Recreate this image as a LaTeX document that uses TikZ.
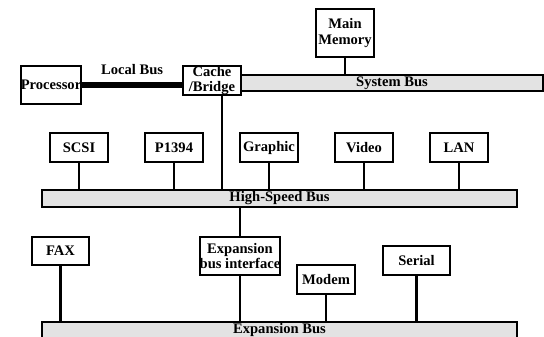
\documentclass[tikz,border=0pt]{standalone}
\usepackage{fontspec}
\setmainfont{Liberation Serif}
\usetikzlibrary{calc}
\tikzset{
  unit/.style={draw, line width=1.1pt, fill=white, inner sep=0pt, align=center,
    font=\fontsize{8.3}{9}\selectfont\bfseries},
  bus/.style={draw, line width=1.1pt, fill=gray!22, inner sep=0pt,
    font=\fontsize{8.3}{9}\selectfont\bfseries},
  tap/.style={line width=1.5pt}
}
\begin{document}
\begin{tikzpicture}[x=0.02cm, y=-0.02cm]
	\useasboundingbox (0,0) rectangle (544,337);
	\clip (0,0) rectangle (544,337);
	% Buses
	\node[bus, minimum width=302*0.02cm, minimum height=16*0.02cm] (sysbus) at (392,83) {System Bus};
	\node[bus, minimum width=475*0.02cm, minimum height=17*0.02cm] (hsbus) at (279.5,198.5) {High-Speed Bus};
	\node[bus, minimum width=475*0.02cm, minimum height=17*0.02cm, anchor=north] (expbus) at (279.5,321) {Expansion Bus};
	
	% Processor side
	\node[unit, minimum width=58*0.02cm, minimum height=38*0.02cm] (proc) at (51,85) {Processor};
	\node[unit, minimum width=58*0.02cm, minimum height=29*0.02cm] (cache) at (212,80.5) {Cache\\/Bridge};
	\node[unit, minimum width=58*0.02cm, minimum height=48*0.02cm] (mem) at (345,33) {Main\\Memory};
	
	% Units on the high-speed bus
	\node[unit, minimum width=58*0.02cm, minimum height=29*0.02cm] (scsi) at (79,147.5) {SCSI};
	\node[unit, minimum width=58*0.02cm, minimum height=29*0.02cm] (firewire) at (174,147.5) {P1394};
	\node[unit, minimum width=58*0.02cm, minimum height=29*0.02cm] (graphic) at (269,147.5) {Graphic};
	\node[unit, minimum width=58*0.02cm, minimum height=29*0.02cm] (video) at (364,147.5) {Video};
	\node[unit, minimum width=58*0.02cm, minimum height=29*0.02cm] (lan) at (459,147.5) {LAN};
	
	% Units on the expansion bus
	\node[unit, minimum width=57*0.02cm, minimum height=28*0.02cm] (fax) at (60.5,251) {FAX};
	\node[unit, minimum width=76*0.02cm, minimum height=38*0.02cm] (expif) at (240,256) {Expansion\\bus interface};
	\node[unit, minimum width=58*0.02cm, minimum height=29*0.02cm] (modem) at (326,279.5) {Modem};
	\node[unit, minimum width=67*0.02cm, minimum height=29*0.02cm] (serial) at (416.5,260.5) {Serial};
	
	% Connections
	\draw[line width=3.4pt] (proc.east) -- (proc.east -| cache.west)
	  node[midway, above=1pt, font=\fontsize{8.3}{9}\selectfont\bfseries] {Local Bus};
	\draw[tap] (mem.south) -- (mem.south |- sysbus.north);
	\draw[tap] ($(cache.south)+(10,0)$) -- ($(cache.south |- hsbus.north)+(10,0)$);
	\foreach \u in {scsi,firewire,graphic,video,lan}
	  \draw[tap] (\u.south) -- (\u.south |- hsbus.north);
	\draw[tap] (hsbus.south -| expif.north) -- (expif.north);
	\foreach \u in {fax,expif,modem,serial}
	  \draw[tap] (\u.south) -- (\u.south |- expbus.north);
	
\end{tikzpicture}
\end{document}
